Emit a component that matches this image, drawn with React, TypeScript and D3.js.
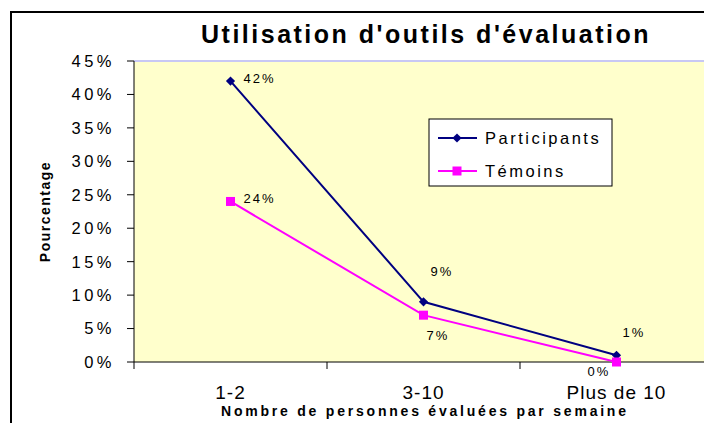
import React from 'react';
import * as d3 from 'd3';

// Chart data
const categories = ['1-2', '3-10', 'Plus de 10'];
const participants = [42, 9, 1];
const temoins = [24, 7, 0];
const yTicks = [0, 5, 10, 15, 20, 25, 30, 35, 40, 45];
const seriesNames = ['Participants', 'Témoins'];

// Label placement relative to each point (dx to text start, dy to text middle)
const participantLabelOffsets = [[13, -3], [7, -30], [6, -23]];
const temoinLabelOffsets = [[13, -3], [3, 20], [-29, 9]];

const WIDTH = 704;
const HEIGHT = 423;
const FONT = '"Liberation Sans", Arial, sans-serif';
const NAVY = '#000080';
const MAGENTA = '#FF00FF';

const plot = { left: 134, right: 713, top: 61, bottom: 362 };

const App = () => {
  const x = d3.scaleBand().domain(categories).range([plot.left, plot.right]).padding(0);
  const cx = (c: string) => (x(c) as number) + x.bandwidth() / 2;
  const y = d3.scaleLinear().domain([0, 45]).range([plot.bottom, plot.top]);

  const line = d3.line<number>()
    .x((_, i) => cx(categories[i]))
    .y(d => y(d));

  const diamond = d3.symbol(d3.symbolSquare, 42)();
  const square = d3.symbol(d3.symbolSquare, 81)();

  // x tick positions at band boundaries
  const xTickPos = categories.map(c => x(c) as number).concat([plot.right]);

  const series = [
    { name: seriesNames[0], values: participants, color: NAVY, marker: diamond, rotate: 45, offsets: participantLabelOffsets },
    { name: seriesNames[1], values: temoins, color: MAGENTA, marker: square, rotate: 0, offsets: temoinLabelOffsets },
  ];

  return (
    <div style={{ position: 'fixed', left: 0, top: 0, width: WIDTH, height: HEIGHT, overflow: 'hidden' }}>
      <svg width={WIDTH} height={HEIGHT} style={{ display: 'block', fontFamily: FONT }}>
        <rect x={0} y={0} width={WIDTH} height={HEIGHT} fill="#fff" />
        {/* chart border */}
        <rect x={11} y={12} width={WIDTH + 20} height={HEIGHT + 20} fill="#fff" stroke="#000" strokeWidth={2} />

        {/* title */}
        <text x={426} y={43} textAnchor="middle" fontSize={25} fontWeight="bold" letterSpacing={2.5} fill="#000">
          Utilisation d'outils d'évaluation
        </text>

        {/* plot area */}
        <rect x={plot.left} y={plot.top} width={plot.right - plot.left} height={plot.bottom - plot.top} fill="#FFFFCC" />
        <line x1={plot.left} x2={plot.right} y1={plot.top} y2={plot.top} stroke="#C8C8F4" strokeWidth={2} />

        {/* y axis */}
        <line x1={plot.left} x2={plot.left} y1={plot.top} y2={plot.bottom} stroke="#000" />
        {yTicks.map(t => (
          <g key={t}>
            <line x1={plot.left - 7} x2={plot.left} y1={y(t)} y2={y(t)} stroke="#000" />
            <text x={115} y={y(t)} dy="0.36em" textAnchor="end" fontSize={16.5} letterSpacing={3.5} fill="#000">
              {t}%
            </text>
          </g>
        ))}
        <text
          transform={`translate(50, ${(plot.top + plot.bottom) / 2}) rotate(-90)`}
          textAnchor="middle"
          fontSize={14}
          fontWeight="bold"
          letterSpacing={1.5}
          fill="#000"
        >
          Pourcentage
        </text>

        {/* x axis */}
        <line x1={plot.left} x2={plot.right} y1={plot.bottom} y2={plot.bottom} stroke="#000" />
        {xTickPos.map((p, i) => (
          <line key={i} x1={p} x2={p} y1={plot.bottom} y2={plot.bottom + 7} stroke="#000" />
        ))}
        {categories.map(c => (
          <text key={c} x={cx(c)} y={392} dy="0.36em" textAnchor="middle" fontSize={19} letterSpacing={1} fill="#000">
            {c}
          </text>
        ))}
        <text
          x={(plot.left + plot.right) / 2}
          y={411}
          dy="0.36em"
          textAnchor="middle"
          fontSize={14}
          fontWeight="bold"
          textLength={405}
          lengthAdjust="spacing"
          fill="#000"
        >
          Nombre de personnes évaluées par semaine
        </text>

        {/* series */}
        {series.map(s => (
          <g key={s.name}>
            <path d={line(s.values) as string} fill="none" stroke={s.color} strokeWidth={2} />
            {s.values.map((v, i) => (
              <path
                key={i}
                d={s.marker as string}
                transform={`translate(${cx(categories[i])}, ${y(v)}) rotate(${s.rotate})`}
                fill={s.color}
              />
            ))}
            {s.values.map((v, i) => (
              <text
                key={`l${i}`}
                x={cx(categories[i]) + s.offsets[i][0]}
                y={y(v) + s.offsets[i][1]}
                dy="0.36em"
                fontSize={13}
                letterSpacing={2}
                fill="#000"
              >
                {v}%
              </text>
            ))}
          </g>
        ))}

        {/* legend */}
        <rect x={429} y={119} width={183} height={67} fill="#fff" stroke="#000" strokeWidth={1} />
        {series.map((s, i) => {
          const ly = 138 + i * 33;
          return (
            <g key={s.name}>
              <line x1={438} x2={477} y1={ly} y2={ly} stroke={s.color} strokeWidth={2} />
              <path d={s.marker as string} transform={`translate(457, ${ly}) rotate(${s.rotate})`} fill={s.color} />
              <text x={485} y={ly} dy="0.36em" fontSize={16.5} letterSpacing={2.5} fill="#000">
                {s.name}
              </text>
            </g>
          );
        })}
      </svg>
    </div>
  );
};

export default App;
